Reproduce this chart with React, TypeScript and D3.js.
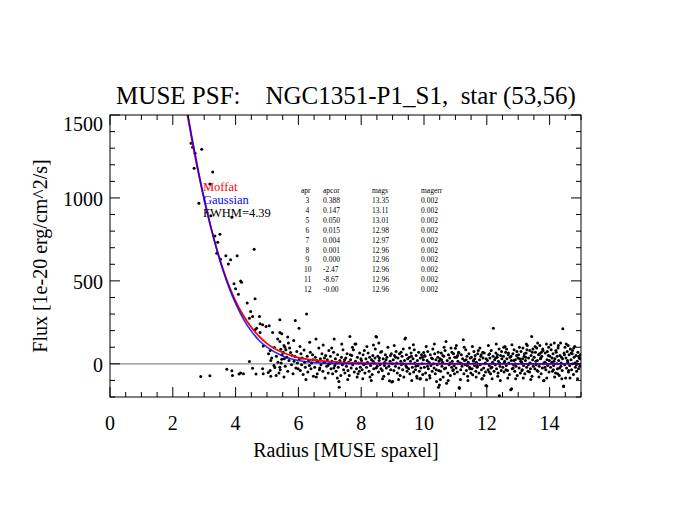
import React from 'react';
import * as d3 from 'd3';

const W = 675;
const H = 521;

const title = 'MUSE PSF:    NGC1351-P1_S1,  star (53,56)';
const xLabel = 'Radius [MUSE spaxel]';
const yLabel = 'Flux [1e-20 erg/cm^2/s]';

const xMajorTicks = [0, 2, 4, 6, 8, 10, 12, 14];
const yMajorTicks = [0, 500, 1000, 1500];

const curveR = [2.3, 2.4, 2.6, 2.8, 3.0, 3.2, 3.4, 3.6, 3.8, 4.0, 4.25, 4.5, 4.75, 5.0, 5.5, 6.0, 6.5, 7.0, 8.0, 9.0, 10, 12, 15];
const gaussF = [1698, 1587, 1374, 1176, 995, 833, 689, 563, 455, 364, 270, 197, 141, 100, 47, 20, 8, 3, 0, 0, 0, 0, 0];
const moffatF = [1680, 1570, 1360, 1165, 990, 832, 692, 570, 466, 378, 290, 220, 165, 122, 68, 38, 22, 13, 5, 2, 1, 0, 0];

const legendNames = ['Moffat', 'Gaussian', 'FWHM=4.39'];
const legendColors = ['#ff0000', '#0000ff', '#000000'];

const tableHeader = ['apr', 'apcor', 'mags', 'magerr'];
const tableApr = ['3', '4', '5', '6', '7', '8', '9', '10', '11', '12'];
const tableApcor = ['0.388', '0.147', '0.050', '0.015', '0.004', '0.001', '0.000', '-2.47', '-8.67', '-0.00'];
const tableMags = ['13.35', '13.11', '13.01', '12.98', '12.97', '12.96', '12.96', '12.96', '12.96', '12.96'];
const tableMagerr = ['0.002', '0.002', '0.002', '0.002', '0.002', '0.002', '0.002', '0.002', '0.002', '0.002'];

const points: [number, number][] = [
  [2.58, 1329], [2.63, 1305], [2.71, 1269], [2.92, 1293], [2.68, 1179], [3.27, 1157], [3.18, 1084], [2.83, 968],
  [3.21, 892], [3.88, 884], [3.34, 771], [3.5, 781], [3.43, 733], [3.4, 667], [3.69, 651], [3.52, 631], [4.05, 652],
  [4.59, 691], [3.84, 627], [3.77, 602], [3.95, 482], [4.16, 500], [4.19, 492], [4.0, 452], [4.09, 420], [4.62, 392],
  [4.37, 366], [4.48, 315], [4.44, 275], [4.54, 285], [4.76, 285], [4.78, 241], [4.86, 235], [4.97, 225], [5.07, 229],
  [5.41, 265], [4.67, 215], [4.62, 205], [4.78, 189], [5.18, 189], [5.34, 149], [5.41, 189], [5.47, 181], [5.66, 161],
  [4.88, 108], [5.1, 80], [5.23, 98], [5.41, 134], [5.44, 88], [5.54, 110], [5.57, 100],
  [2.89, -76], [3.18, -72], [3.72, -32], [3.88, -42], [3.9, -70], [4.11, -62], [4.16, -56], [4.44, 14], [4.54, -26],
  [4.65, -62], [4.86, -30], [4.88, -60], [5.04, -52], [5.12, 20], [5.1, -40], [5.25, -22], [5.29, -70], [5.41, -20],
  [5.47, 28], [4.25, -60],
  [5.05, 60], [5.15, 35], [5.22, -10], [5.3, 45], [5.35, 10], [5.42, -35], [5.48, 55], [5.12, -75], [5.38, -55], [5.45, 5],
  [5.52, 70], [5.55, 30], [5.58, -15], [5.6, 85], [5.63, 40], [5.66, -45], [5.7, 20], [5.72, 95], [5.75, 68], [5.78, -5],
  [5.8, 50], [5.83, -60], [5.86, 15], [5.89, 44], [5.9, 261], [5.92, -25], [5.95, 75], [5.97, 5], [5.54, -80], [5.68, 125],
  [5.85, 140], [5.99, -30],
  [6.02, 215], [6.03, 30], [6.06, -40], [6.08, 60], [6.1, -5], [6.12, 35], [6.15, -65], [6.18, 84], [6.2, 10], [6.22, -20],
  [6.26, 301], [6.28, 45], [6.3, -50], [6.33, 20], [6.35, -10], [6.38, 70], [6.4, -30], [6.42, 5], [6.45, 55], [6.48, -75],
  [6.05, 105], [6.24, -95], [6.36, 130], [6.46, 25],
  [6.52, -20], [6.54, 40], [6.57, -80], [6.6, -60], [6.62, 15], [6.65, 95], [6.67, -35], [6.7, 30], [6.72, -5], [6.75, 60],
  [6.78, -45], [6.79, 114], [6.82, 10], [6.85, -86], [6.87, 50], [6.9, -15], [6.92, 25], [6.95, -55], [6.97, 80], [6.99, 0],
  [6.56, 150], [6.68, -25], [6.83, 35], [6.94, -10], [6.58, 20],
  [7.02, 45], [7.04, -30], [7.07, 15], [7.09, -60], [7.12, 70], [7.14, 149], [7.16, -10], [7.18, 30], [7.2, -45], [7.22, 5],
  [7.25, 55], [7.27, -20], [7.29, -106], [7.3, -141], [7.32, 20], [7.35, -70], [7.37, 40], [7.4, -5], [7.42, 85], [7.44, -35],
  [7.46, 10], [7.48, -55], [7.06, 95], [7.24, -85], [7.38, 120], [7.47, 25], [7.13, -25],
  [7.51, 35], [7.53, -15], [7.55, 60], [7.58, -40], [7.6, 10], [7.62, -70], [7.64, 165], [7.66, 25], [7.68, -25], [7.7, 50],
  [7.73, -5], [7.75, 85], [7.78, -50], [7.8, 119], [7.82, 15], [7.83, 120], [7.85, -30], [7.88, 40], [7.9, -60], [7.92, 5],
  [7.95, 65], [7.97, -20], [7.99, 30], [7.57, -95], [7.72, 100], [7.87, -80], [7.94, -45], [7.65, 55],
  [8.01, 20], [8.03, -35], [8.06, 55], [8.08, -5], [8.1, 80], [8.12, -55], [8.15, 30], [8.17, -20], [8.2, 10], [8.22, 65],
  [8.25, -45], [8.27, 40], [8.28, -80], [8.3, -10], [8.33, 25], [8.35, -65], [8.37, 50], [8.39, 114], [8.4, -30], [8.42, 5],
  [8.45, 90], [8.47, 165], [8.49, 161], [8.48, -25], [8.05, -90], [8.18, 105], [8.32, -100], [8.44, 35], [8.13, 0], [8.38, 15],
  [8.51, -15], [8.53, 45], [8.55, -50], [8.57, 20], [8.6, -5], [8.62, 70], [8.65, 74], [8.67, -40], [8.7, 30], [8.72, -75],
  [8.75, 10], [8.77, 55], [8.8, -25], [8.82, 40], [8.85, 100], [8.87, -60], [8.9, -102], [8.92, 15], [8.94, -35], [8.96, 60],
  [8.97, -110], [8.99, 0], [8.56, 125], [8.68, -90], [8.79, 25], [8.88, -15], [8.58, 35], [8.74, -10], [8.93, 50], [8.63, -30],
  [9.0, -106], [9.02, 25], [9.04, -40], [9.06, 50], [9.09, -15], [9.11, 75], [9.13, 5], [9.15, -55], [9.17, 35], [9.2, -25],
  [9.22, 60], [9.24, -70], [9.26, 15], [9.28, -5], [9.3, 45], [9.32, -35], [9.34, 90], [9.36, -80], [9.38, 20], [9.39, 149],
  [9.41, 155], [9.42, -10], [9.44, 55], [9.46, -45], [9.48, 30], [9.05, 110], [9.19, -95], [9.33, 0], [9.45, -20], [9.1, 40],
  [9.27, 70],
  [9.51, -30], [9.53, 40], [9.55, -60], [9.57, 15], [9.59, 65], [9.61, -100], [9.63, -20], [9.65, 30], [9.67, -50], [9.69, 85],
  [9.71, 5], [9.73, -35], [9.75, 50], [9.77, -75], [9.79, 20], [9.81, -10], [9.83, 70], [9.85, -45], [9.87, -92], [9.88, 35],
  [9.9, -25], [9.92, 55], [9.94, 0], [9.96, -65], [9.98, 25], [9.99, 68], [9.54, 95], [9.66, 115], [9.78, -85], [9.89, -88],
  [9.6, 45], [9.74, -15], [9.95, 40],
  [10.01, -20], [10.03, 45], [10.05, -55], [10.08, -96], [10.1, 20], [10.12, 75], [10.14, -30], [10.16, 10], [10.18, -70],
  [10.2, 55], [10.22, -10], [10.24, 35], [10.26, -45], [10.28, 90], [10.3, 0], [10.32, -25], [10.34, 60], [10.36, -60],
  [10.38, 25], [10.4, -106], [10.42, -5], [10.44, 40], [10.46, -141], [10.47, -40], [10.48, 15], [10.49, -127], [10.07, 105],
  [10.19, -85], [10.33, 120], [10.45, 70], [10.11, -15], [10.27, 30], [10.39, -35], [10.02, 50],
  [10.51, 30], [10.53, -45], [10.55, 65], [10.57, -15], [10.59, 10], [10.61, -80], [10.63, 45], [10.65, -30], [10.67, 80],
  [10.7, 134], [10.72, -117], [10.74, 20], [10.76, -55], [10.78, 55], [10.8, -5], [10.82, 35], [10.84, -70], [10.86, 95],
  [10.88, -20], [10.9, 15], [10.92, -40], [10.94, 60], [10.96, -10], [10.98, 40], [10.52, -95], [10.64, 100], [10.77, -100],
  [10.89, 70], [10.56, 25], [10.69, -25], [10.83, 5], [10.97, -60], [10.6, 50], [10.93, -35],
  [11.0, 94], [11.02, -25], [11.04, 40], [11.06, -50], [11.08, 15], [11.1, 70], [11.12, -143], [11.13, -147], [11.15, 5],
  [11.17, -35], [11.19, 55], [11.21, -15], [11.23, 30], [11.25, 145], [11.27, -60], [11.29, 20], [11.31, -5], [11.33, 85],
  [11.35, -40], [11.37, 45], [11.39, -75], [11.41, 10], [11.43, 60], [11.45, -20], [11.47, 35], [11.49, -55], [11.03, 110],
  [11.16, -95], [11.28, 100], [11.4, -100], [11.07, 50], [11.2, 0], [11.34, 25], [11.46, -30], [11.11, 65], [11.38, -10],
  [11.51, 40], [11.53, -30], [11.55, -66], [11.57, 20], [11.59, 75], [11.61, -10], [11.63, 50], [11.65, -45], [11.67, 10],
  [11.69, -20], [11.71, 60], [11.73, 80], [11.75, -55], [11.77, 25], [11.79, -5], [11.81, 45], [11.83, -35], [11.84, -92],
  [11.86, -88], [11.88, 35], [11.9, -25], [11.92, 65], [11.94, 0], [11.96, -50], [11.97, -131], [11.98, 30], [12.0, -133],
  [11.54, 105], [11.66, -80], [11.78, 95], [11.91, -70], [11.58, 15], [11.7, -15], [11.82, 55], [11.95, 5], [11.62, 30], [11.87, 70],
  [12.02, 20], [12.04, -35], [12.06, 55], [12.08, -10], [12.1, 35], [12.12, -60], [12.14, 80], [12.16, -20], [12.18, 10],
  [12.2, 45], [12.21, 215], [12.23, -45], [12.25, 25], [12.27, -5], [12.29, 65], [12.31, -30], [12.33, 40], [12.35, -75],
  [12.37, 15], [12.39, 90], [12.4, -193], [12.42, -15], [12.44, 50], [12.46, -40], [12.48, 30], [12.05, 110], [12.17, -90],
  [12.3, 120], [12.43, -100], [12.09, 60], [12.22, 0], [12.36, -55], [12.47, 75], [12.13, -25], [12.28, 35], [12.41, 5],
  [12.07, -50], [12.34, 55],
  [12.51, -20], [12.53, 45], [12.55, -50], [12.57, 15], [12.58, 104], [12.6, 70], [12.62, -10], [12.64, 30], [12.66, -40],
  [12.68, 55], [12.7, 5], [12.72, -65], [12.74, 40], [12.76, -157], [12.78, 20], [12.79, -150], [12.81, -30], [12.83, 60],
  [12.85, -5], [12.87, 85], [12.89, -45], [12.91, 25], [12.93, -15], [12.95, 50], [12.97, -70], [12.99, 35], [12.54, 100],
  [12.67, -85], [12.8, 115], [12.92, -90], [12.56, 10], [12.69, 65], [12.84, -25], [12.96, 75], [12.61, -35], [12.77, 45],
  [12.9, 0], [12.63, 90], [12.86, 20],
  [13.01, 55], [13.03, -25], [13.05, 30], [13.07, -55], [13.09, 75], [13.11, 10], [13.13, -35], [13.15, 95], [13.17, -10],
  [13.19, 45], [13.21, -60], [13.23, 20], [13.25, 65], [13.27, -20], [13.29, 110], [13.31, -45], [13.33, 35], [13.35, 0],
  [13.37, 80], [13.39, -30], [13.41, 50], [13.43, 165], [13.44, -75], [13.46, 25], [13.48, -15], [13.04, 100], [13.16, -85],
  [13.28, 85], [13.4, -95], [13.08, 15], [13.2, 60], [13.32, -5], [13.45, 70], [13.12, -40], [13.24, 40], [13.36, -50],
  [13.47, 90], [13.14, 30], [13.38, 5], [13.26, 120],
  [13.51, 40], [13.53, -30], [13.55, 70], [13.57, -5], [13.59, 95], [13.61, 20], [13.63, -45], [13.65, 55], [13.67, -15],
  [13.69, 110], [13.71, 30], [13.73, -60], [13.75, 45], [13.77, -25], [13.79, 80], [13.81, -102], [13.82, -100], [13.84, 10],
  [13.86, 65], [13.88, -35], [13.9, 120], [13.92, 25], [13.94, -10], [13.96, 50], [13.98, -50], [13.54, 105], [13.66, -80],
  [13.78, 90], [13.91, -85], [13.56, 15], [13.68, 60], [13.8, 0], [13.93, 75], [13.6, -40], [13.72, 35], [13.85, -20],
  [13.97, 100], [13.62, 125], [13.87, 5], [13.74, 70], [13.99, 20],
  [14.01, 45], [14.03, -20], [14.05, 85], [14.07, 10], [14.09, -45], [14.11, 60], [14.13, -10], [14.15, 125], [14.17, 30],
  [14.19, -55], [14.21, 70], [14.23, 0], [14.25, -30], [14.27, 95], [14.29, 20], [14.31, -70], [14.33, 50], [14.35, 125],
  [14.36, -15], [14.38, 40], [14.4, -40], [14.42, 211], [14.44, -137], [14.45, -133], [14.46, 65], [14.48, -5],
  [14.04, 115], [14.16, -80], [14.28, 110], [14.39, -90], [14.08, 35], [14.2, 80], [14.32, -25], [14.47, 55], [14.12, -35],
  [14.24, 45], [14.37, 5], [14.49, 100], [14.14, 15], [14.26, -60], [14.41, 30],
  [14.51, -86], [14.52, 35], [14.54, -25], [14.56, 75], [14.58, 10], [14.6, -50], [14.62, 55], [14.64, -10], [14.66, 90],
  [14.68, 25], [14.7, -35], [14.72, 60], [14.74, 0], [14.76, -65], [14.78, 40], [14.8, 105], [14.82, -20], [14.84, 50],
  [14.86, -45], [14.88, 15], [14.9, 70], [14.92, -30], [14.94, 35], [14.96, -15], [14.98, 55], [14.53, 120], [14.65, -85],
  [14.77, 95], [14.89, -90], [14.57, 20], [14.69, 65], [14.81, 5], [14.93, 45], [14.61, -40], [14.73, 80], [14.85, -5],
  [14.97, 30], [14.59, 110],
];

const FONT = '"Liberation Serif", "Times New Roman", serif';

export default function App() {
  const left = 110, right = 581, top = 115, bottom = 397;
  const x = d3.scaleLinear().domain([0, 15]).range([left, right]);
  const y = d3.scaleLinear().domain([-200, 1500]).range([bottom, top]);

  const xMinor = d3.range(0, 15.001, 0.5);
  const yMinor = d3.range(-200, 1500.001, 100);

  const line = d3
    .line<number>()
    .x((_, i) => x(curveR[i]))
    .y((d) => y(d))
    .curve(d3.curveMonotoneX);

  const tableX = [301, 323, 372, 421];
  const rowY0 = 203;
  const rowDy = 9.9;

  return (
    <svg
      width={W}
      height={H}
      style={{ position: 'absolute', left: 0, top: 0, background: '#fff' }}
      fontFamily={FONT}
    >
      <rect x={0} y={0} width={W} height={H} fill="#fff" />
      <defs>
        <clipPath id="plotClip">
          <rect x={left} y={top} width={right - left} height={bottom - top} />
        </clipPath>
      </defs>

      <text x={346} y={104} textAnchor="middle" fontSize={25} style={{ whiteSpace: 'pre' }}>
        {title}
      </text>

      {/* zero line */}
      <line x1={left} x2={right} y1={y(0)} y2={y(0)} stroke="#8c8c8c" strokeWidth={1.2} />

      {/* points */}
      <g clipPath="url(#plotClip)">
        {points.map((p, i) => (
          <circle key={i} cx={x(p[0])} cy={y(p[1])} r={1.5} fill="#000" />
        ))}
        <path d={line(moffatF) || ''} fill="none" stroke="#ff0000" strokeWidth={1.8} />
        <path d={line(gaussF) || ''} fill="none" stroke="#0000ff" strokeWidth={1.6} strokeOpacity={0.85} />
      </g>

      {/* frame */}
      <rect x={left} y={top} width={right - left} height={bottom - top} fill="none" stroke="#000" strokeWidth={1} />

      {/* ticks */}
      {xMinor.map((v, i) => {
        const major = Math.abs(v / 2 - Math.round(v / 2)) < 1e-6;
        const len = major ? 10 : 5;
        return (
          <g key={'xt' + i}>
            <line x1={x(v)} x2={x(v)} y1={bottom} y2={bottom - len} stroke="#000" />
            <line x1={x(v)} x2={x(v)} y1={top} y2={top + len} stroke="#000" />
          </g>
        );
      })}
      {yMinor.map((v, i) => {
        const major = Math.abs(v / 500 - Math.round(v / 500)) < 1e-6;
        const len = major ? 10 : 5;
        return (
          <g key={'yt' + i}>
            <line x1={left} x2={left + len} y1={y(v)} y2={y(v)} stroke="#000" />
            <line x1={right} x2={right - len} y1={y(v)} y2={y(v)} stroke="#000" />
          </g>
        );
      })}

      {xMajorTicks.map((v) => (
        <text key={'xl' + v} x={x(v)} y={430} textAnchor="middle" fontSize={20}>
          {v}
        </text>
      ))}
      {yMajorTicks.map((v) => (
        <text key={'yl' + v} x={103} y={v === 1500 ? y(v) + 16 : y(v) + 8} textAnchor="end" fontSize={20}>
          {v}
        </text>
      ))}

      <text x={346} y={457} textAnchor="middle" fontSize={20}>
        {xLabel}
      </text>
      <text transform={`translate(47,256) rotate(-90)`} textAnchor="middle" fontSize={20}>
        {yLabel}
      </text>

      {/* legend */}
      {legendNames.map((n, i) => (
        <text key={n} x={203} y={191 + i * 13} fontSize={12.5} fill={legendColors[i]}>
          {n}
        </text>
      ))}

      {/* table */}
      {tableHeader.map((h, i) => (
        <text key={h} x={tableX[i]} y={193} fontSize={7.5}>
          {h}
        </text>
      ))}
      {tableApr.map((a, i) => (
        <g key={'row' + i} fontSize={7.5}>
          <text x={a.length > 1 ? 304 : 305.5} y={rowY0 + i * rowDy}>{a}</text>
          <text x={tableX[1]} y={rowY0 + i * rowDy}>{tableApcor[i]}</text>
          <text x={tableX[2]} y={rowY0 + i * rowDy}>{tableMags[i]}</text>
          <text x={tableX[3]} y={rowY0 + i * rowDy}>{tableMagerr[i]}</text>
        </g>
      ))}
    </svg>
  );
}
